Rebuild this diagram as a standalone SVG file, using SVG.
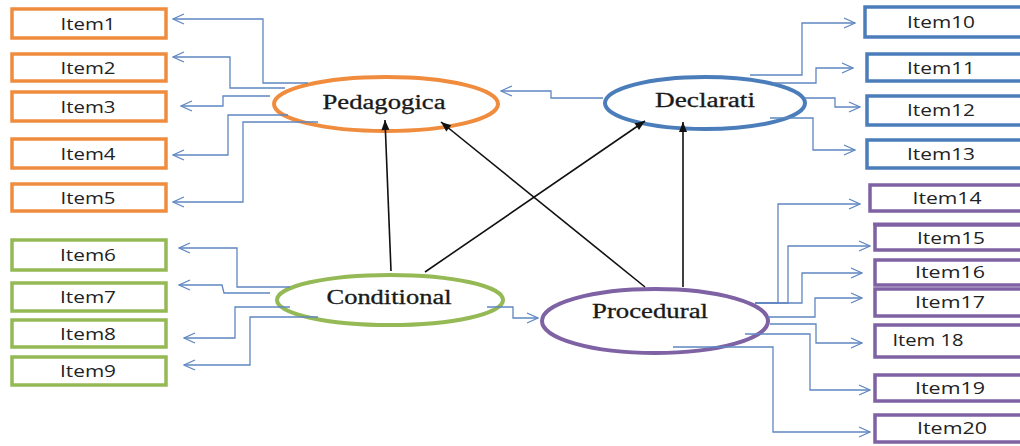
<svg xmlns="http://www.w3.org/2000/svg" width="1020" height="446" viewBox="0 0 1020 446">
<style>
.bx{fill:#fff;stroke-width:3.5}
.o{stroke:#F08C3E}.g{stroke:#94B955}.b{stroke:#4A7DBA}.p{stroke:#7E62A4}
.t{font-family:"Open Sans","Liberation Sans",sans-serif;font-size:16px;fill:#222;text-anchor:middle}
.e{fill:#fff;stroke-width:4}
.et{font-family:"Liberation Serif","Times New Roman",serif;font-size:20px;fill:#1a1a1a;stroke:#1a1a1a;stroke-width:0.3;text-anchor:middle}
.c{fill:none;stroke:#5F86C1;stroke-width:1.3;marker-end:url(#ob)}
.k{fill:none;stroke:#111;stroke-width:1.6;marker-end:url(#ab)}
</style>
<defs>
<marker id="ob" markerUnits="userSpaceOnUse" viewBox="-13 -7 14 14" refX="0" refY="0" markerWidth="14" markerHeight="14" orient="auto"><path d="M-11,-5 L0,0 L-11,5" fill="none" stroke="#5F86C1" stroke-width="1.3"/></marker>
<marker id="ab" markerUnits="userSpaceOnUse" viewBox="-11 -5 12 10" refX="0" refY="0" markerWidth="12" markerHeight="10" orient="auto"><path d="M-10,-4 L0,0 L-10,4Z" fill="#111"/></marker>
</defs>
<rect width="1020" height="446" fill="#fff"/>
<g id="item1"><rect class="bx o" x="12" y="9" width="154" height="29"/><text class="t" x="88" y="30" textLength="55" lengthAdjust="spacingAndGlyphs">Item1</text></g>
<g id="item2"><rect class="bx o" x="12" y="54" width="154" height="27"/><text class="t" x="88" y="74" textLength="55" lengthAdjust="spacingAndGlyphs">Item2</text></g>
<g id="item3"><rect class="bx o" x="12" y="92" width="154" height="29"/><text class="t" x="88" y="113" textLength="55" lengthAdjust="spacingAndGlyphs">Item3</text></g>
<g id="item4"><rect class="bx o" x="12" y="139" width="154" height="29"/><text class="t" x="88" y="160" textLength="55" lengthAdjust="spacingAndGlyphs">Item4</text></g>
<g id="item5"><rect class="bx o" x="12" y="184" width="154" height="27"/><text class="t" x="88" y="204" textLength="55" lengthAdjust="spacingAndGlyphs">Item5</text></g>
<g id="item6"><rect class="bx g" x="12" y="240" width="154" height="30"/><text class="t" x="88" y="261" textLength="56" lengthAdjust="spacingAndGlyphs">Item6</text></g>
<g id="item7"><rect class="bx g" x="12" y="283" width="154" height="28"/><text class="t" x="88" y="303" textLength="56" lengthAdjust="spacingAndGlyphs">Item7</text></g>
<g id="item8"><rect class="bx g" x="12" y="320" width="154" height="27"/><text class="t" x="88" y="340" textLength="56" lengthAdjust="spacingAndGlyphs">Item8</text></g>
<g id="item9"><rect class="bx g" x="12" y="357" width="154" height="28"/><text class="t" x="88" y="377" textLength="56" lengthAdjust="spacingAndGlyphs">Item9</text></g>
<g id="item10"><rect class="bx b" x="865" y="7" width="170" height="30"/><text class="t" x="941" y="28" textLength="68" lengthAdjust="spacingAndGlyphs">Item10</text></g>
<g id="item11"><rect class="bx b" x="867" y="54" width="170" height="27"/><text class="t" x="941" y="74" textLength="68" lengthAdjust="spacingAndGlyphs">Item11</text></g>
<g id="item12"><rect class="bx b" x="867" y="96" width="170" height="29"/><text class="t" x="941" y="116" textLength="68" lengthAdjust="spacingAndGlyphs">Item12</text></g>
<g id="item13"><rect class="bx b" x="867" y="140" width="170" height="28"/><text class="t" x="941" y="160" textLength="68" lengthAdjust="spacingAndGlyphs">Item13</text></g>
<g id="item14"><rect class="bx p" x="870" y="185" width="170" height="26"/><text class="t" x="947" y="204" textLength="69" lengthAdjust="spacingAndGlyphs">Item14</text></g>
<g id="item15"><rect class="bx p" x="875" y="225" width="170" height="25" stroke-width="4"/><line x1="873" y1="224" x2="1020" y2="224" stroke="#7E62A4" stroke-width="3"/><text class="t" x="951" y="244" textLength="68" lengthAdjust="spacingAndGlyphs">Item15</text></g>
<g id="item16"><rect class="bx p" x="875" y="260" width="170" height="25" stroke-width="4"/><text class="t" x="950" y="278" textLength="70" lengthAdjust="spacingAndGlyphs">Item16</text></g>
<g id="item17"><rect class="bx p" x="875" y="289" width="170" height="27" stroke-width="4"/><text class="t" x="950" y="308" textLength="70" lengthAdjust="spacingAndGlyphs">Item17</text></g>
<g id="item18"><rect class="bx p" x="875" y="325" width="170" height="32" stroke-width="4"/><text class="t" x="928" y="346" textLength="71" lengthAdjust="spacingAndGlyphs">Item 18</text></g>
<g id="item19"><rect class="bx p" x="875" y="375" width="170" height="26" stroke-width="4"/><text class="t" x="950" y="394" textLength="70" lengthAdjust="spacingAndGlyphs">Item19</text></g>
<g id="item20"><rect class="bx p" x="875" y="415" width="170" height="27" stroke-width="4"/><text class="t" x="952" y="434" textLength="70" lengthAdjust="spacingAndGlyphs">Item20</text></g>
<g id="pedagogica"><ellipse class="e o" cx="386" cy="104" rx="112" ry="27"/><text class="et" x="384" y="109" textLength="123" lengthAdjust="spacingAndGlyphs">Pedagogica</text></g>
<g id="declarati"><ellipse class="e b" cx="705" cy="103" rx="100" ry="26"/><text class="et" x="705" y="107" textLength="100" lengthAdjust="spacingAndGlyphs">Declarati</text></g>
<g id="conditional"><ellipse class="e g" cx="390" cy="300" rx="113" ry="25"/><text class="et" x="389" y="304" textLength="125" lengthAdjust="spacingAndGlyphs">Conditional</text></g>
<g id="procedural"><ellipse class="e p" cx="655" cy="321" rx="113" ry="32"/><text class="et" x="650" y="318" textLength="116" lengthAdjust="spacingAndGlyphs">Procedural</text></g>
<g id="connectors">
<path class="c" d="M308,83 H263 V19 H173"/>
<path class="c" d="M285,88 H230 V57 H173"/>
<path class="c" d="M270,96 H223 V106 H181"/>
<path class="c" d="M288,115 H228 V155 H173"/>
<path class="c" d="M318,122 H243 V202 H173"/>
<path class="c" d="M603,98 H551 V91 H501"/>
<path class="c" d="M750,75 H802 V23 H855"/>
<path class="c" d="M773,83 H816 V68 H853"/>
<path class="c" d="M805,98 H835 V107 H860"/>
<path class="c" d="M770,118 H813 V150 H855"/>
<path class="c" d="M290,287 H237 V248 H179"/>
<path class="c" d="M270,293 H224 L222,285 H179"/>
<path class="c" d="M290,307 H235 V338 H184"/>
<path class="c" d="M318,317 H250 V365 H184"/>
<path class="c" d="M487,307 H513 V318 H538"/>
<path class="c" d="M755,303 H778 V204 H860"/>
<path class="c" d="M755,303 H788 V246 H870"/>
<path class="c" d="M755,303 H802 V273 H862"/>
<path class="c" d="M768,317 H815 V298 H862"/>
<path class="c" d="M770,324 H816 V343 H862"/>
<path class="c" d="M745,334 H810 V390 H870"/>
<path class="c" d="M673,347 H773 V432 H870"/>
<path class="k" d="M391,271 L385,120"/>
<path class="k" d="M425,272 L645,121"/>
<path class="k" d="M645,287 L441,122"/>
<path class="k" d="M683,287 L683,122"/>
</g>
</svg>
